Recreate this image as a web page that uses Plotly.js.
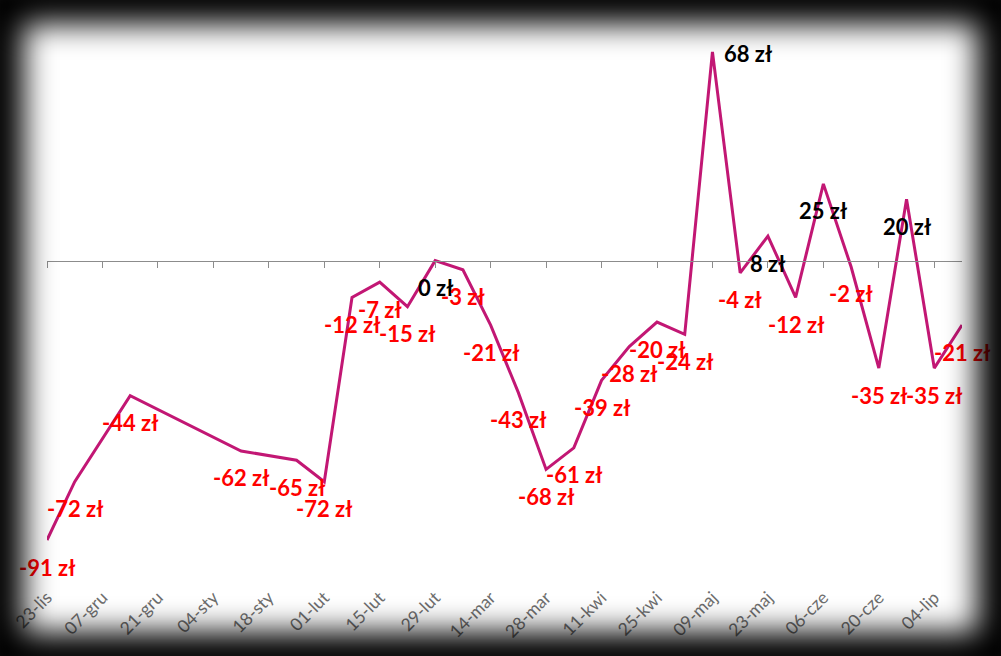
<!DOCTYPE html>
<html>
<head>
<meta charset="utf-8">
<script src="https://cdn.plot.ly/plotly-3.0.1.min.js"></script>
<style>
  html, body { margin: 0; padding: 0; background: #000; }
  #wrap { position: relative; width: 1001px; height: 656px; overflow: hidden; background: #fff; }
  #chart { position: absolute; left: 0; top: 0; width: 1001px; height: 656px; }
  #frame { position: absolute; left: 0; top: 0; width: 1001px; height: 656px;
           box-shadow: inset 0 0 30px 24px #000; pointer-events: none; z-index: 10; }
</style>
</head>
<body>
<div id="wrap"><div id="chart"></div><div id="frame"></div></div>
<script>
const dates = ['2011-11-23','2011-11-30','2011-12-14','2012-01-11','2012-01-25','2012-02-01','2012-02-08','2012-02-15','2012-02-22','2012-02-29','2012-03-07','2012-03-14','2012-03-21','2012-03-28','2012-04-04','2012-04-11','2012-04-18','2012-04-25','2012-05-02','2012-05-09','2012-05-16','2012-05-23','2012-05-30','2012-06-06','2012-06-13','2012-06-20','2012-06-27','2012-07-04','2012-07-11'];
const values = [-91,-72,-44,-62,-65,-72,-12,-7,-15,0,-3,-21,-43,-68,-61,-39,-28,-20,-24,68,-4,8,-12,25,-2,-35,20,-35,-21];
const tickDates = ['2011-11-23','2011-12-07','2011-12-21','2012-01-04','2012-01-18','2012-02-01','2012-02-15','2012-02-29','2012-03-14','2012-03-28','2012-04-11','2012-04-25','2012-05-09','2012-05-23','2012-06-06','2012-06-20','2012-07-04'];
const tickLabels = ['23-lis','07-gru','21-gru','04-sty','18-sty','01-lut','15-lut','29-lut','14-mar','28-mar','11-kwi','25-kwi','09-maj','23-maj','06-cze','20-cze','04-lip'];
const unit = ' zł';
const peakRight = 68; // label drawn to the right of the peak

const xRange = ['2011-11-23','2012-07-11'];
const yRange = [-105, 80];
const lineColor = '#c21774';
const axisGray = '#8c8c8c';

const traces = [
  { x: dates, y: values, type: 'scatter', mode: 'lines',
    line: { color: lineColor, width: 3 }, hoverinfo: 'skip', showlegend: false },
  { x: dates, y: values, type: 'scatter', mode: 'lines', xaxis: 'x2',
    line: { color: 'rgba(0,0,0,0)', width: 0 }, hoverinfo: 'skip', showlegend: false }
];

const annotations = values.map((v, i) => {
  const right = v === peakRight;
  return {
    x: dates[i], y: v, xref: 'x', yref: 'y',
    text: v + unit, showarrow: false,
    xanchor: right ? 'left' : 'center', yanchor: 'middle',
    xshift: right ? 10 : 0, yshift: right ? -2 : -27,
    font: { family: 'Lato, "Open Sans", sans-serif', size: 22, color: v < 0 ? '#ff0000' : '#000000', weight: 700 }
  };
});

const layout = {
  width: 1001, height: 656,
  margin: { l: 47, r: 39, t: 15, b: 73 },
  paper_bgcolor: '#ffffff', plot_bgcolor: '#ffffff',
  showlegend: false,
  xaxis: {
    type: 'date', range: xRange,
    tickmode: 'array', tickvals: tickDates, ticktext: tickLabels,
    tickangle: -45, ticks: '', showline: false, showgrid: false, zeroline: false,
    tickfont: { family: 'Lato, "Open Sans", sans-serif', size: 17.5, color: '#6e6e6e' }
  },
  xaxis2: {
    type: 'date', range: xRange, overlaying: 'x', anchor: 'free',
    position: (0 - yRange[0]) / (yRange[1] - yRange[0]),
    tickmode: 'array', tickvals: tickDates, showticklabels: false,
    ticks: 'outside', ticklen: 6, tickwidth: 1, tickcolor: axisGray,
    showline: true, linecolor: axisGray, linewidth: 1,
    showgrid: false, zeroline: false
  },
  yaxis: { range: yRange, visible: false, showgrid: false, zeroline: false },
  annotations: annotations
};

Plotly.newPlot('chart', traces, layout, { staticPlot: true, displayModeBar: false });
</script>
</body>
</html>
